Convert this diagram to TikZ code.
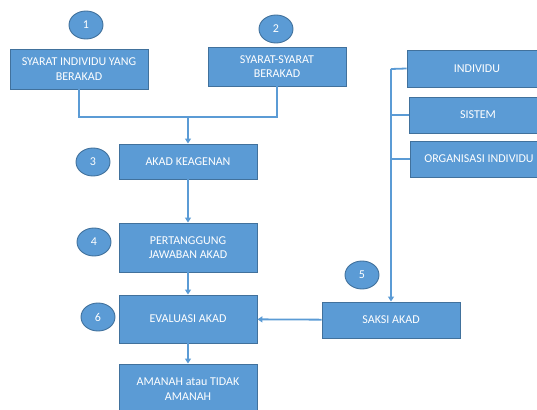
\documentclass[tikz,border=0pt]{standalone}
\usepackage{fontspec}
\setmainfont{Carlito}
\usepackage{tikz}
\usetikzlibrary{positioning,arrows.meta,calc,shapes.geometric}
\definecolor{boxblue}{HTML}{5B9BD5}
\definecolor{edgeblue}{HTML}{41719C}

\begin{document}
\begin{tikzpicture}[
		x=1pt,y=-1pt,
		box/.style={
			draw=edgeblue,
			line width=0.9pt,
			fill=boxblue,
			text=white,
			align=center,
			font=\fontsize{12}{14.5}\selectfont,
			minimum width=138pt,
			inner sep=1pt
		},
		num/.style={
			ellipse,
			draw=edgeblue,
			line width=0.9pt,
			fill=boxblue,
			text=white,
			font=\fontsize{12}{14.5}\selectfont,
			minimum width=34pt,
			minimum height=28pt,
			inner sep=0pt
		},
		link/.style={
			draw=boxblue,
			line width=1.8pt
		}
		]
		\useasboundingbox (0,0) rectangle (537,409);
		
		\node (c1) [num] at (86,25) {1};
		\node (c2) [num] at (276,29) {2};
		\node (c3) [num] at (93,162) {3};
		\node (c4) [num] at (94,242) {4};
		\node (c5) [num] at (362,275) {5};
		\node (c6) [num] at (98,317) {6};
		
		\node (syarat) [box,minimum height=40pt] at (79,69) {SYARAT INDIVIDU YANG\\BERAKAD};
		\node (syarat2) [box,minimum height=39pt] at (277,66.5) {SYARAT-SYARAT\\BERAKAD};
		\node (agen) [box,minimum height=35pt] at (188,161.5) {AKAD KEAGENAN};
		\node (tanggung) [box,minimum height=49pt] at (188,247.5) {PERTANGGUNG\\JAWABAN AKAD};
		\node (eval) [box,minimum height=48pt] at (188,319) {EVALUASI AKAD};
		\node (amanah) [box,minimum height=50pt] at (188,389) {AMANAH atau TIDAK\\AMANAH};
		\node (saksi) [box,minimum height=36pt] at (391,320) {SAKSI AKAD};
		
		\node (indiv) [box,minimum width=140pt,minimum height=37pt] at (477,68.5) {INDIVIDU};
		\node (sistem) [box,minimum height=36pt] at (478,115) {SISTEM};
		\node (org) [box,minimum height=36pt] at (479,159) {ORGANISASI INDIVIDU};
		
		\coordinate (join) at (188,117);
		\coordinate (top) at (391,69);
		
		\draw[link] (syarat.south) |- (join);
		\draw[link] (syarat2.south) |- (join);
		\draw[link,-{Triangle[length=5pt,width=6pt]}] (join) -- (agen.north);
		\draw[link,-{Triangle[length=5pt,width=6pt]}] (agen) -- (tanggung);
		\draw[link,-{Triangle[length=5pt,width=6pt]}] (tanggung) -- (eval);
		\draw[link,-{Triangle[length=5pt,width=6pt]}] (eval) -- (amanah);
		\draw[link,-{Triangle[length=5pt,width=6pt]}] (saksi) -- (eval);
		
		\draw[link] (indiv.west) -- (top);
		\draw[link,-{Triangle[length=5pt,width=6pt]}] (top) -- (saksi.north);
		\draw[link] (sistem.west) -- (sistem.west -| top);
		\draw[link] (org.west) -- (org.west -| top);
		
	\end{tikzpicture}
\end{document}
